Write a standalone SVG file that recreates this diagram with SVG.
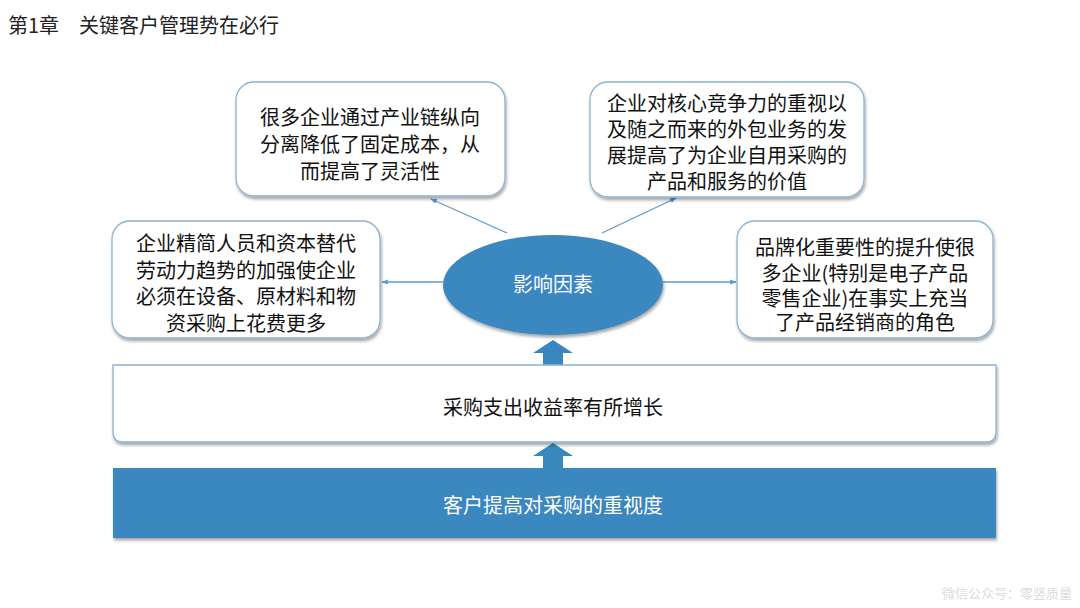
<svg xmlns="http://www.w3.org/2000/svg" width="1080" height="608" viewBox="0 0 1080 608">
<style>
  .t{font-family:"Noto Sans CJK SC","Noto Sans",sans-serif;font-size:20px;fill:#111;text-anchor:middle}
  .w{fill:#fff}
  .box{fill:#fff;stroke:#8db3d4;stroke-width:1.3;filter:url(#sh)}
  .con{stroke:#5b9bd0;stroke-width:1.3;fill:none;marker-end:url(#ah)}
  .blk{fill:#3a87bf}
</style>
<defs>
  <filter id="sh" x="-10%" y="-10%" width="120%" height="130%">
    <feDropShadow dx="1" dy="2.5" stdDeviation="1.6" flood-color="#000" flood-opacity="0.35"/>
  </filter>
  <marker id="ah" viewBox="0 0 10 10" refX="9" refY="5" markerWidth="5" markerHeight="5" orient="auto">
    <path d="M0,1 L10,5 L0,9 z" fill="#5b9bd0"/>
  </marker>
</defs>
<rect width="1080" height="608" fill="#fff"/>
<text x="8" y="33" style="font-family:'Noto Sans CJK SC',sans-serif;font-size:20px;fill:#222">第1章　关键客户管理势在必行</text>

<g id="connectors">
  <line class="con" x1="507" y1="233" x2="431" y2="199"/>
  <line class="con" x1="602" y1="233" x2="676" y2="198"/>
  <line class="con" x1="443" y1="282" x2="382" y2="282"/>
  <line class="con" x1="663" y1="282" x2="736" y2="282"/>
  <path class="blk" d="M553,340 L573,353 L563,353 L563,365 L543,365 L543,353 L533,353 Z"/>
  <path class="blk" d="M553,443 L573,456 L563,456 L563,468 L543,468 L543,456 L533,456 Z"/>
</g>

<g id="n_tl">
  <rect class="box" x="236" y="82" width="269" height="114" rx="18"/>
  <text class="t" x="370" y="125">很多企业通过产业链纵向</text>
  <text class="t" x="370" y="152">分离降低了固定成本，从</text>
  <text class="t" x="370" y="179">而提高了灵活性</text>
</g>
<g id="n_tr">
  <rect class="box" x="590" y="82" width="274" height="115" rx="18"/>
  <text class="t" x="727" y="111">企业对核心竞争力的重视以</text>
  <text class="t" x="727" y="137">及随之而来的外包业务的发</text>
  <text class="t" x="727" y="163">展提高了为企业自用采购的</text>
  <text class="t" x="727" y="189">产品和服务的价值</text>
</g>
<g id="n_l">
  <rect class="box" x="112" y="221" width="268" height="117" rx="18"/>
  <text class="t" x="246" y="251">企业精简人员和资本替代</text>
  <text class="t" x="246" y="278">劳动力趋势的加强使企业</text>
  <text class="t" x="246" y="304">必须在设备、原材料和物</text>
  <text class="t" x="246" y="331">资采购上花费更多</text>
</g>
<g id="n_r">
  <rect class="box" x="737" y="221" width="256" height="117" rx="18"/>
  <text class="t" x="865" y="255">品牌化重要性的提升使很</text>
  <text class="t" x="865" y="281">多企业(特别是电子产品</text>
  <text class="t" x="865" y="306">零售企业)在事实上充当</text>
  <text class="t" x="865" y="330">了产品经销商的角色</text>
</g>
<g id="n_center">
  <ellipse cx="553" cy="285" rx="110" ry="50" fill="#3a87bf" filter="url(#sh)"/>
  <text class="t w" x="553" y="292">影响因素</text>
</g>
<g id="n_mid">
  <path class="box" d="M113,365 H996 V432 Q996,442 986,442 H123 Q113,442 113,432 Z"/>
  <text class="t" x="553" y="415">采购支出收益率有所增长</text>
</g>
<g id="n_bottom">
  <rect x="113" y="468" width="883" height="70" fill="#3a87bf" filter="url(#sh)"/>
  <text class="t w" x="553" y="513">客户提高对采购的重视度</text>
</g>
<text x="1072" y="598" style="font-family:'Noto Sans CJK SC',sans-serif;font-size:13px;fill:#dcdcdc;text-anchor:end">微信公众号：零竖质量</text>
</svg>
